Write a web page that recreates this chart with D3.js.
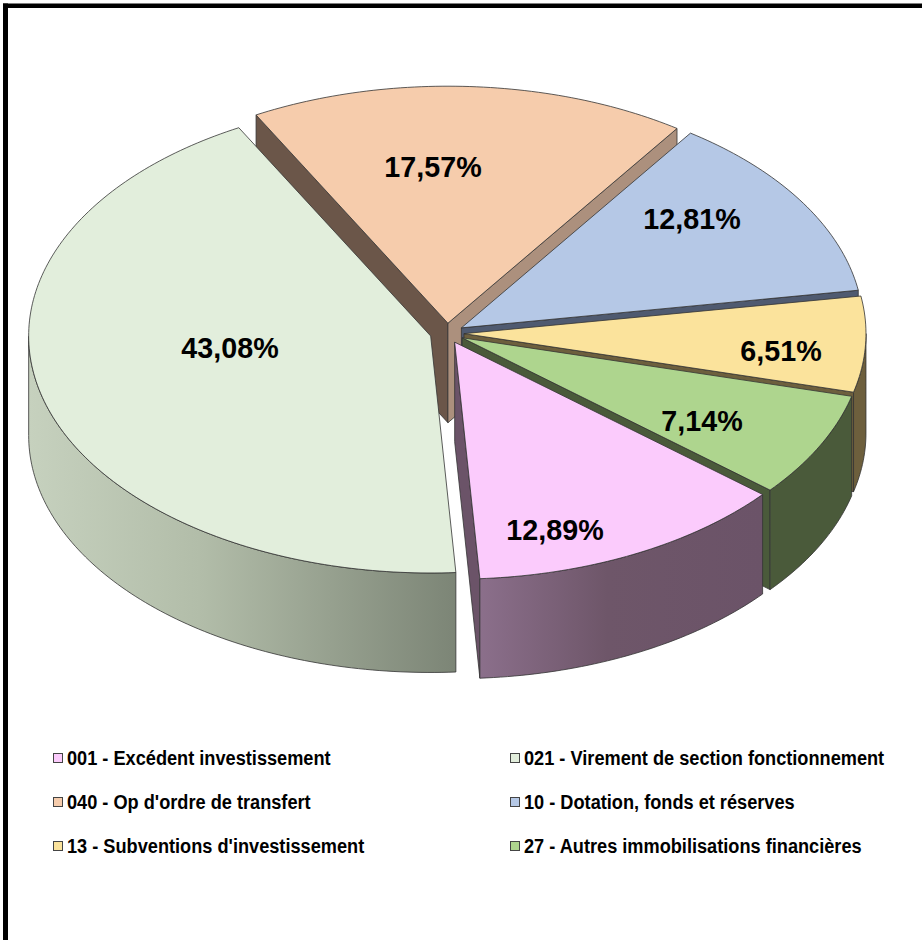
<!DOCTYPE html>
<html><head><meta charset="utf-8">
<script src="https://cdn.jsdelivr.net/npm/d3@7/dist/d3.min.js"></script>
<style>html,body{margin:0;padding:0;background:#fff;overflow:hidden}svg{display:block}</style>
</head><body><svg id="c" width="922" height="940"></svg>
<script>
const categories = ["001 - Excédent investissement","021 - Virement de section fonctionnement","040 - Op d'ordre de transfert","10 - Dotation, fonds et réserves","13 - Subventions d'investissement","27 - Autres immobilisations financières"];
const values = [12.89,43.08,17.57,12.81,6.51,7.14];
const valueLabels = ["12,89%","43,08%","17,57%","12,81%","6,51%","7,14%"];
const topColors = ["#fbcbfc","#e2eedc","#f6ccac","#b5c8e6","#fbe39c","#aed58e"];
const wallColors = [["#6b5368"],["#c8d3c0"],["#6b5649","#ac907d"],["#4f5a70"],["#6d5f3d"],["#4a5a3a"]];
const outerGradients = [[["0%","#8b6f8b"],["45%","#6e5669"],["100%","#6b5368"]],[["0%","#c6d1be"],["40%","#b2bda9"],["100%","#7c8576"]],null,null,[["0%","#6d5f3d"],["100%","#6d5f3d"]],[["0%","#4a5a3a"],["100%","#4a5a3a"]]];
const labelCenters = [[555,530],[230,348],[433,167],[692,219],[781,351],[702,421]];
const legendCols = [53,510], legendRows = [758,802,846];

const W=922,H=940, cx=447, cy=333.2, rx=402, ry=237, depth=99.5, explode=17;
const rad=Math.PI/180, startDeg=130;
const svg=d3.select("#c");
svg.append("rect").attr("width",W).attr("height",H).attr("fill","#fff");
const defs=svg.append("defs");

const pie=d3.pie().sort(null).value(d=>d).startAngle(startDeg*rad).endAngle((startDeg+360)*rad);
const arcs=pie(values).map((d,i)=>{
  const mid=(d.startAngle+d.endAngle)/2;
  // slices past 12 o'clock are brought back into one turn
  const shift=d.startAngle>=2*Math.PI?2*Math.PI:0;
  return {i,a0:d.startAngle-shift,a1:d.endAngle-shift,ox:cx+explode*Math.sin(mid),oy:cy-explode*ry/rx*Math.cos(mid)};
});
const sx=d3.scaleLinear().domain([-1,1]).range([-rx,rx]);
const sy=d3.scaleLinear().domain([-1,1]).range([-ry,ry]);
const pt=(s,a,z=0)=>[s.ox+sx(Math.sin(a)),s.oy-sy(Math.cos(a))+z];
const line=d3.line();
const rim=(s,a0,a1,z=0)=>{const n=Math.max(2,Math.ceil((a1-a0)/rad));return d3.range(n+1).map(k=>pt(s,a0+(a1-a0)*k/n,z));};

const drawOrder=[2,3,4,5,1,0];
drawOrder.forEach(i=>{
  const s=arcs[i];
  const g=svg.append("g");
  const stroke="#333";
  const apex=[s.ox,s.oy];
  const wall=(a,fill)=>{
    const p=pt(s,a);
    g.append("path").attr("d",line([apex,p,[p[0],p[1]+depth],[apex[0],apex[1]+depth]])+"Z")
      .attr("fill",fill).attr("stroke",stroke).attr("stroke-width",0.8).attr("stroke-linejoin","round");
  };
  // radial walls facing the viewer: normal of start edge is a-90deg, of end edge a+90deg
  const startVisible=-Math.cos(s.a0-Math.PI/2)>0, endVisible=-Math.cos(s.a1+Math.PI/2)>0;
  if(startVisible) wall(s.a0,wallColors[i][0]);
  if(endVisible) wall(s.a1,wallColors[i][wallColors[i].length-1]);
  // outer curved wall between 90deg and 270deg
  const lo=Math.max(s.a0,90*rad), hi=Math.min(s.a1,270*rad);
  if(hi>lo && outerGradients[i]){
    const pts=rim(s,lo,hi);
    const xs=pts.map(p=>p[0]);
    const id="gr"+i;
    const lg=defs.append("linearGradient").attr("id",id).attr("gradientUnits","userSpaceOnUse")
      .attr("x1",d3.min(xs)).attr("x2",d3.max(xs)).attr("y1",0).attr("y2",0);
    outerGradients[i].forEach(st=>lg.append("stop").attr("offset",st[0]).attr("stop-color",st[1]));
    g.append("path").attr("d",line(pts.concat(rim(s,lo,hi,depth).reverse()))+"Z")
      .attr("fill",`url(#${id})`).attr("stroke",stroke).attr("stroke-width",0.8).attr("stroke-linejoin","round");
  }
  // top face
  g.append("path").attr("d",line([apex].concat(rim(s,s.a0,s.a1)))+"Z")
    .attr("fill",topColors[i]).attr("stroke",stroke).attr("stroke-width",0.8).attr("stroke-linejoin","round");
});

// value labels
svg.append("g").selectAll("text").data(valueLabels).join("text")
  .attr("x",(d,i)=>labelCenters[i][0]).attr("y",(d,i)=>labelCenters[i][1])
  .attr("dy","0.36em").attr("text-anchor","middle")
  .attr("font-family","'Liberation Sans',Arial,sans-serif").attr("font-weight","bold").attr("font-size",28.7)
  .attr("fill","#000").text(d=>d);

// legend
const lg=svg.append("g").selectAll("g").data(categories).join("g")
  .attr("transform",(d,i)=>`translate(${legendCols[i%2]},${legendRows[Math.floor(i/2)]})`);
lg.append("rect").attr("x",0.5).attr("y",-4.5).attr("width",9).attr("height",9)
  .attr("fill",(d,i)=>topColors[i]).attr("stroke","#444").attr("stroke-width",1);
lg.append("text").attr("transform","translate(14,0) scale(0.928,1)").attr("dy","0.36em")
  .attr("font-family","'Liberation Sans',Arial,sans-serif").attr("font-weight","bold").attr("font-size",19.6)
  .attr("fill","#000").text(d=>d);

// frame
svg.append("rect").attr("x",3).attr("y",3.5).attr("width",5).attr("height",H).attr("fill","#000");
svg.append("rect").attr("x",3).attr("y",3.5).attr("width",W).attr("height",4.5).attr("fill","#000");
</script></body></html>
